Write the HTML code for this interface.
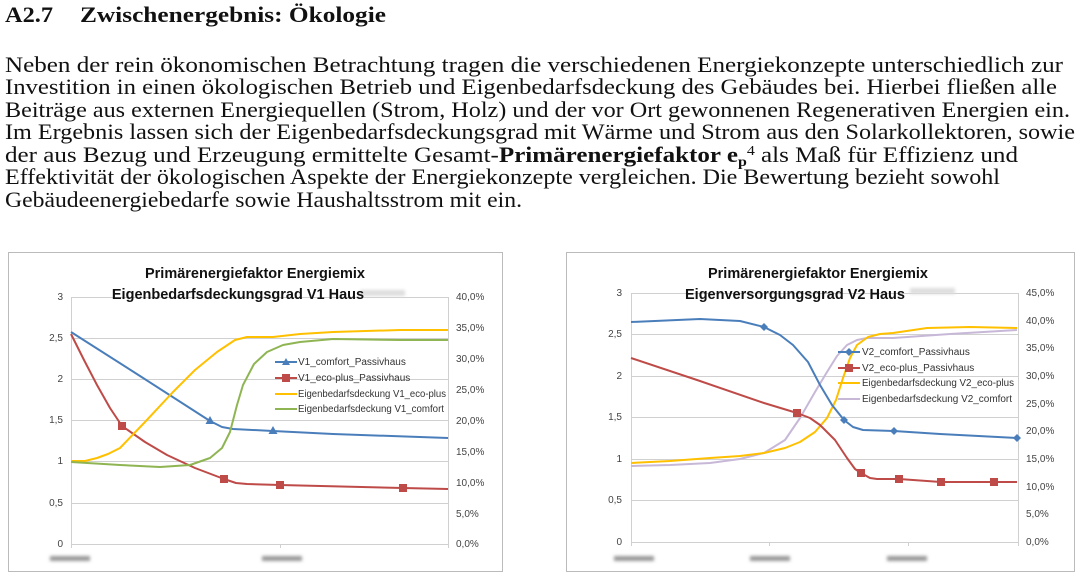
<!DOCTYPE html>
<html><head><meta charset="utf-8"><style>
html,body{margin:0;padding:0;background:#fff;width:1085px;height:580px;overflow:hidden}
svg{display:block}
.t{font-family:"Liberation Serif",serif;font-size:22px;fill:#111}
.c{font-family:"Liberation Sans",sans-serif;font-size:10px;fill:#444}
.ti{font-family:"Liberation Sans",sans-serif;font-size:14.5px;font-weight:bold;fill:#111}
.lg{font-family:"Liberation Sans",sans-serif;font-size:10px;fill:#333}
</style></head><body>
<svg width="1085" height="580" viewBox="0 0 1085 580" xmlns="http://www.w3.org/2000/svg">
<defs><filter id="bl"><feGaussianBlur stdDeviation="1.5"/></filter></defs>
<text class="t" x="5" y="22" font-weight="bold" font-size="23" textLength="48" lengthAdjust="spacingAndGlyphs">A2.7</text>
<text class="t" x="80" y="22" font-weight="bold" font-size="23" textLength="306" lengthAdjust="spacingAndGlyphs">Zwischenergebnis: Ökologie</text>
<text class="t" x="5" y="72" textLength="1058" lengthAdjust="spacingAndGlyphs">Neben der rein ökonomischen Betrachtung tragen die verschiedenen Energiekonzepte unterschiedlich zur</text>
<text class="t" x="5" y="94" textLength="1052" lengthAdjust="spacingAndGlyphs">Investition in einen ökologischen Betrieb und Eigenbedarfsdeckung des Gebäudes bei. Hierbei fließen alle</text>
<text class="t" x="5" y="117" textLength="1065" lengthAdjust="spacingAndGlyphs">Beiträge aus externen Energiequellen (Strom, Holz) und der vor Ort gewonnenen Regenerativen Energien ein.</text>
<text class="t" x="5" y="139" textLength="1070" lengthAdjust="spacingAndGlyphs">Im Ergebnis lassen sich der Eigenbedarfsdeckungsgrad mit Wärme und Strom aus den Solarkollektoren, sowie</text>
<text class="t" x="5" y="162" textLength="1013" lengthAdjust="spacingAndGlyphs">der aus Bezug und Erzeugung ermittelte Gesamt-<tspan font-weight="bold">Primärenergiefaktor e</tspan><tspan font-weight="bold" font-size="14" dy="4">p</tspan><tspan font-size="14" dy="-11">4</tspan><tspan dy="7"> als Maß für Effizienz und</tspan></text>
<text class="t" x="5" y="184" textLength="995" lengthAdjust="spacingAndGlyphs">Effektivität der ökologischen Aspekte der Energiekonzepte vergleichen. Die Bewertung bezieht sowohl</text>
<text class="t" x="5" y="207" textLength="517" lengthAdjust="spacingAndGlyphs">Gebäudeenergiebedarfe sowie Haushaltsstrom mit ein.</text>

<!-- LEFT CHART -->
<rect x="8.5" y="252.5" width="494" height="319" fill="#fff" stroke="#bbb"/>
<g stroke="#d0d0d0" stroke-width="1">
<line x1="71" y1="297.5" x2="448" y2="297.5"/><line x1="71" y1="338.5" x2="448" y2="338.5"/>
<line x1="71" y1="379.5" x2="448" y2="379.5"/><line x1="71" y1="420.5" x2="448" y2="420.5"/>
<line x1="71" y1="461.5" x2="448" y2="461.5"/><line x1="71" y1="503.5" x2="448" y2="503.5"/>
<line x1="71" y1="544.5" x2="448" y2="544.5"/>
<line x1="71.5" y1="297" x2="71.5" y2="548"/><line x1="448.5" y1="297" x2="448.5" y2="548"/>
<line x1="280.5" y1="544" x2="280.5" y2="548"/>
</g>
<g class="c" text-anchor="end">
<text x="63" y="300">3</text><text x="63" y="341">2,5</text><text x="63" y="382">2</text>
<text x="63" y="423">1,5</text><text x="63" y="464">1</text><text x="63" y="506">0,5</text><text x="63" y="547">0</text>
</g>
<g class="c">
<text x="456" y="300">40,0%</text><text x="456" y="331">35,0%</text><text x="456" y="362">30,0%</text>
<text x="456" y="393">25,0%</text><text x="456" y="424">20,0%</text><text x="456" y="455">15,0%</text>
<text x="456" y="486">10,0%</text><text x="456" y="517">5,0%</text><text x="456" y="547">0,0%</text>
</g>
<g fill="#999" filter="url(#bl)"><rect x="50" y="556" width="40" height="5"/><rect x="262" y="556" width="40" height="5"/><rect x="360" y="290" width="45" height="6" fill="#ddd"/></g>
<text class="ti" x="255" y="278" text-anchor="middle">Primärenergiefaktor Energiemix</text>
<text class="ti" x="238" y="299" text-anchor="middle">Eigenbedarfsdeckungsgrad V1 Haus</text>
<g fill="none" stroke-width="2" stroke-linejoin="round">
<polyline stroke="#4a7ebb" points="71,332 140,376 210,421 222,427 233,429 273,431 333,434 448,438"/>
<polyline stroke="#be4b48" points="71,334 84,360 97,385 110,408 122,426 145,442 167,455 195,468 224,479 236,483 247,484 280,485 403,488 448,489"/>
<polyline stroke="#ffc000" points="71,461 85,461 97,458 108,454 120,448 145,422 173,392 195,370 217,352 235,340 247,337 273,337 300,334 333,332 400,330 448,330"/>
<polyline stroke="#8fb553" points="71,462 120,465 160,467 190,465 210,458 222,448 230,432 237,405 243,385 254,364 267,352 283,345 300,342 333,339 400,340 448,340"/>
</g>
<g fill="#4a7ebb"><path d="M210,416 l4.5,8 h-9z"/><path d="M273,426 l4.5,8 h-9z"/></g>
<g fill="#be4b48"><rect x="118" y="422" width="8" height="8"/><rect x="220" y="475" width="8" height="8"/><rect x="276" y="481" width="8" height="8"/><rect x="399" y="484" width="8" height="8"/></g>
<g stroke-width="2">
<line x1="275" y1="362" x2="297" y2="362" stroke="#4a7ebb"/><line x1="275" y1="378" x2="297" y2="378" stroke="#be4b48"/>
<line x1="275" y1="394" x2="297" y2="394" stroke="#ffc000"/><line x1="275" y1="409" x2="297" y2="409" stroke="#8fb553"/>
</g>
<path d="M286,358 l4,7 h-8z" fill="#4a7ebb"/><rect x="282" y="374" width="8" height="8" fill="#be4b48"/>
<g class="lg"><text x="298" y="365">V1_comfort_Passivhaus</text><text x="298" y="381">V1_eco-plus_Passivhaus</text>
<text x="298" y="397" textLength="148" lengthAdjust="spacingAndGlyphs">Eigenbedarfsdeckung V1_eco-plus</text><text x="298" y="412" textLength="146" lengthAdjust="spacingAndGlyphs">Eigenbedarfsdeckung V1_comfort</text></g>

<!-- RIGHT CHART -->
<rect x="566.5" y="252.5" width="508" height="319" fill="#fff" stroke="#bbb"/>
<g stroke="#d0d0d0" stroke-width="1">
<line x1="631" y1="293.5" x2="1018" y2="293.5"/><line x1="631" y1="334.5" x2="1018" y2="334.5"/>
<line x1="631" y1="376.5" x2="1018" y2="376.5"/><line x1="631" y1="417.5" x2="1018" y2="417.5"/>
<line x1="631" y1="459.5" x2="1018" y2="459.5"/><line x1="631" y1="500.5" x2="1018" y2="500.5"/>
<line x1="631" y1="542.5" x2="1018" y2="542.5"/>
<line x1="631.5" y1="293" x2="631.5" y2="546"/><line x1="1018.5" y1="293" x2="1018.5" y2="546"/>
<line x1="769.5" y1="542" x2="769.5" y2="546"/><line x1="908.5" y1="542" x2="908.5" y2="546"/>
</g>
<g class="c" text-anchor="end">
<text x="622" y="296">3</text><text x="622" y="337">2,5</text><text x="622" y="379">2</text>
<text x="622" y="420">1,5</text><text x="622" y="462">1</text><text x="622" y="503">0,5</text><text x="622" y="545">0</text>
</g>
<g class="c">
<text x="1026" y="296">45,0%</text><text x="1026" y="324">40,0%</text><text x="1026" y="351">35,0%</text>
<text x="1026" y="379">30,0%</text><text x="1026" y="407">25,0%</text><text x="1026" y="434">20,0%</text>
<text x="1026" y="462">15,0%</text><text x="1026" y="490">10,0%</text><text x="1026" y="517">5,0%</text><text x="1026" y="545">0,0%</text>
</g>
<g fill="#999" filter="url(#bl)"><rect x="614" y="556" width="40" height="5"/><rect x="750" y="556" width="40" height="5"/><rect x="887" y="556" width="40" height="5"/><rect x="910" y="288" width="45" height="6" fill="#ddd"/></g>
<text class="ti" x="818" y="278" text-anchor="middle">Primärenergiefaktor Energiemix</text>
<text class="ti" x="795" y="299" text-anchor="middle">Eigenversorgungsgrad V2 Haus</text>
<g fill="none" stroke-width="2" stroke-linejoin="round">
<polyline stroke="#c8b8d8" points="631,466 670,465 710,463 740,459 764,453 785,440 800,418 815,392 827,372 837,356 847,345 857,340 867,338 893,338 950,334 1017,330"/>
<polyline stroke="#ffc000" points="631,463 670,461 710,458 740,456 764,453 785,448 800,442 815,432 827,418 836,400 843,378 850,358 857,345 868,337 880,334 893,333 927,328 970,327 1017,328"/>
<polyline stroke="#4a7ebb" points="631,322 700,319 740,321 764,327 780,335 793,345 808,362 820,385 832,405 844,420 853,427 863,430 894,431 940,434 1017,438"/>
<polyline stroke="#be4b48" points="631,358 700,381 764,403 797,413 810,418 820,425 835,440 847,458 855,469 861,473 870,478 877,479 899,479 941,482 994,482 1017,482"/>
</g>
<g fill="#4a7ebb"><path d="M764,323 l4,4 -4,4 -4,-4z"/><path d="M844,416 l4,4 -4,4 -4,-4z"/><path d="M894,427 l4,4 -4,4 -4,-4z"/><path d="M1017,434 l4,4 -4,4 -4,-4z"/></g>
<g fill="#be4b48"><rect x="793" y="409" width="8" height="8"/><rect x="857" y="469" width="8" height="8"/><rect x="895" y="475" width="8" height="8"/><rect x="937" y="478" width="8" height="8"/><rect x="990" y="478" width="8" height="8"/></g>
<g stroke-width="2">
<line x1="838" y1="352" x2="860" y2="352" stroke="#4a7ebb"/><line x1="838" y1="368" x2="860" y2="368" stroke="#be4b48"/>
<line x1="838" y1="383" x2="860" y2="383" stroke="#ffc000"/><line x1="838" y1="399" x2="860" y2="399" stroke="#c8b8d8"/>
</g>
<path d="M849,348 l4,4 -4,4 -4,-4z" fill="#4a7ebb"/><rect x="845" y="364" width="8" height="8" fill="#be4b48"/>
<g class="lg"><text x="862" y="355">V2_comfort_Passivhaus</text><text x="862" y="371">V2_eco-plus_Passivhaus</text>
<text x="862" y="386" textLength="152" lengthAdjust="spacingAndGlyphs">Eigenbedarfsdeckung V2_eco-plus</text><text x="862" y="402" textLength="150" lengthAdjust="spacingAndGlyphs">Eigenbedarfsdeckung V2_comfort</text></g>
</svg>
</body></html>
